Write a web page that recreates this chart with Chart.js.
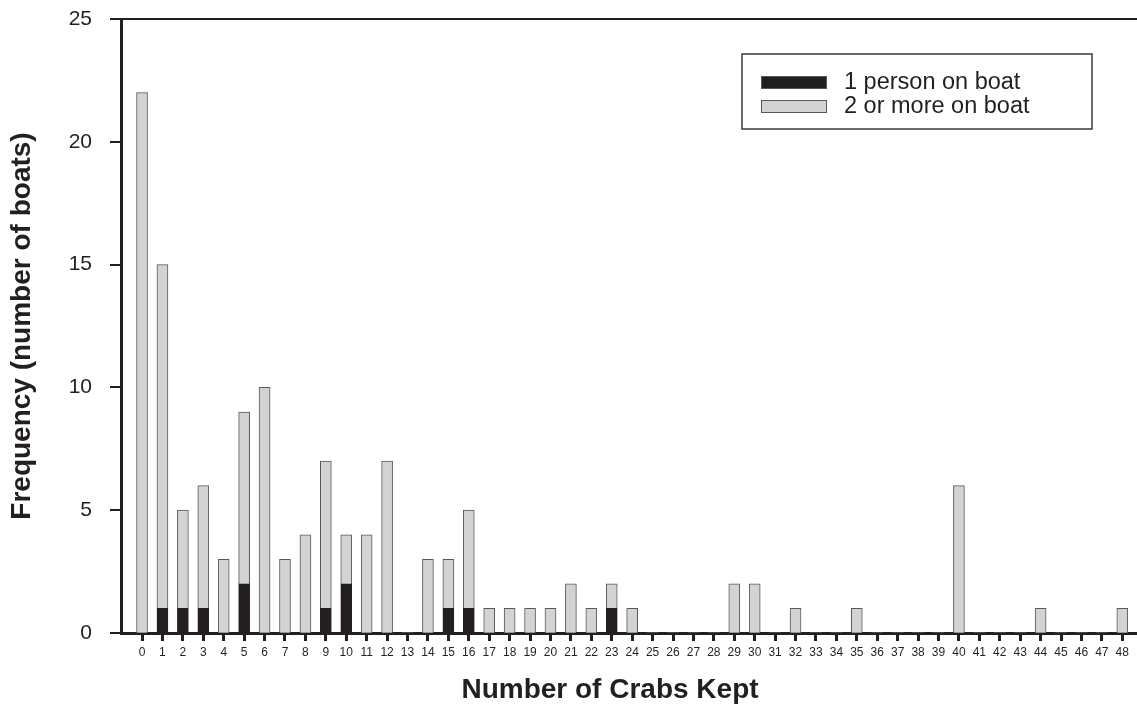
<!DOCTYPE html>
<html>
<head>
<meta charset="utf-8">
<script src="https://cdn.jsdelivr.net/npm/chart.js@4.4.0/dist/chart.umd.min.js"></script>
<style>
    html, body { margin: 0; padding: 0; background: #ffffff; }
    #wrap { width: 1137px; height: 709px; }
</style>
</head>
<body>
<div id="wrap"><canvas id="crabChart" width="1137" height="709"></canvas></div>
<script>
// Crabs kept per boat, split by number of people on board
const crabsKept = [0, 1, 2, 3, 4, 5, 6, 7, 8, 9, 10, 11, 12, 13, 14, 15, 16, 17, 18, 19, 20, 21, 22, 23, 24,
    25, 26, 27, 28, 29, 30, 31, 32, 33, 34, 35, 36, 37, 38, 39, 40, 41, 42, 43, 44, 45, 46, 47, 48];
const onePerson = [0, 1, 1, 1, 0, 2, 0, 0, 0, 1, 2, 0, 0, 0, 0, 1, 1, 0, 0, 0, 0, 0, 0, 1, 0,
    0, 0, 0, 0, 0, 0, 0, 0, 0, 0, 0, 0, 0, 0, 0, 0, 0, 0, 0, 0, 0, 0, 0, 0];
const twoOrMore = [22, 14, 4, 5, 3, 7, 10, 3, 4, 6, 2, 4, 7, 0, 3, 2, 4, 1, 1, 1, 1, 2, 1, 1, 1,
    0, 0, 0, 0, 2, 2, 0, 1, 0, 0, 1, 0, 0, 0, 0, 6, 0, 0, 0, 1, 0, 0, 0, 1];
const yTicks = [0, 5, 10, 15, 20, 25];

const INK = '#231f20';
const FONT = "'Liberation Sans', Arial, sans-serif";
const X_TITLE = 'Number of Crabs Kept';

// boxed key inside the plot + x title (sits a bit left of centre in the original)
const boxLegend = {
    id: 'boxLegend',
    afterDraw(chart) {
        const ctx = chart.ctx;
        const sets = chart.data.datasets;
        ctx.save();
        ctx.strokeStyle = '#3a3a3a';
        ctx.lineWidth = 1.5;
        ctx.strokeRect(742, 54, 350, 75);
        ctx.font = '23.5px ' + FONT;
        ctx.textBaseline = 'middle';
        sets.forEach((ds, i) => {
            const y = 76 + i * 24;
            ctx.fillStyle = ds.backgroundColor;
            ctx.fillRect(761, y, 66, 13);
            ctx.strokeStyle = '#58595b';
            ctx.lineWidth = 1;
            ctx.strokeRect(761.5, y + 0.5, 65, 12);
            ctx.fillStyle = INK;
            ctx.fillText(ds.label, 844, y + 7);
        });

        ctx.font = 'bold 28px ' + FONT;
        ctx.textAlign = 'center';
        ctx.fillText(X_TITLE, 610, 690);
        ctx.restore();
    }
};

const ctx = document.getElementById('crabChart').getContext('2d');
new Chart(ctx, {
    type: 'bar',
    data: {
        labels: crabsKept,
        datasets: [{
            label: '1 person on boat',
            data: onePerson,
            backgroundColor: INK,
            borderColor: INK,
            borderWidth: c => (c.raw ? 1 : 0),
            barThickness: 11
        }, {
            label: '2 or more on boat',
            data: twoOrMore,
            backgroundColor: '#d1d3d4',
            borderColor: '#58595b',
            borderWidth: c => (c.raw ? 1 : 0),
            barThickness: 11
        }]
    },
    options: {
        responsive: false,
        animation: false,
        devicePixelRatio: 1,
        layout: { padding: { top: 19, right: 0, bottom: 0, left: 0 } },
        plugins: {
            legend: { display: false },
            tooltip: { enabled: false }
        },
        scales: {
            x: {
                type: 'linear',
                stacked: true,
                offset: false,
                min: -1.03,
                max: 48.72,
                afterBuildTicks: scale => {
                    scale.ticks = crabsKept.map(v => ({ value: v }));
                },
                afterFit: scale => { scale.height = 76; },
                border: { display: true, color: INK, width: 3 },
                grid: {
                    offset: false,
                    drawOnChartArea: false,
                    tickLength: 8,
                    tickWidth: 3,
                    tickColor: INK
                },
                ticks: {
                    autoSkip: false,
                    maxRotation: 0,
                    padding: 4,
                    color: INK,
                    font: { family: FONT, size: 12 }
                },
                title: { display: false }
            },
            y: {
                stacked: true,
                min: 0,
                max: 25,
                afterBuildTicks: scale => {
                    scale.ticks = yTicks.map(v => ({ value: v }));
                },
                afterFit: scale => {
                    scale.width = 121;
                    // label padding would otherwise push the plot top down
                    scale.paddingTop = 0;
                    scale.paddingBottom = 0;
                },
                border: { display: true, color: INK, width: 3 },
                grid: {
                    drawOnChartArea: true,
                    color: c => (c.tick && c.tick.value === 25 ? INK : 'rgba(0,0,0,0)'),
                    lineWidth: c => (c.tick && c.tick.value === 25 ? 2 : 0),
                    tickLength: 11,
                    tickWidth: 2,
                    tickColor: INK
                },
                ticks: {
                    padding: 18,
                    color: INK,
                    font: { family: FONT, size: 21 }
                },
                title: {
                    display: true,
                    text: 'Frequency (number of boats)',
                    color: INK,
                    padding: { top: 5, bottom: 0 },
                    font: { family: FONT, size: 28, weight: 'bold' }
                }
            }
        }
    },
    plugins: [boxLegend]
});
</script>
</body>
</html>
